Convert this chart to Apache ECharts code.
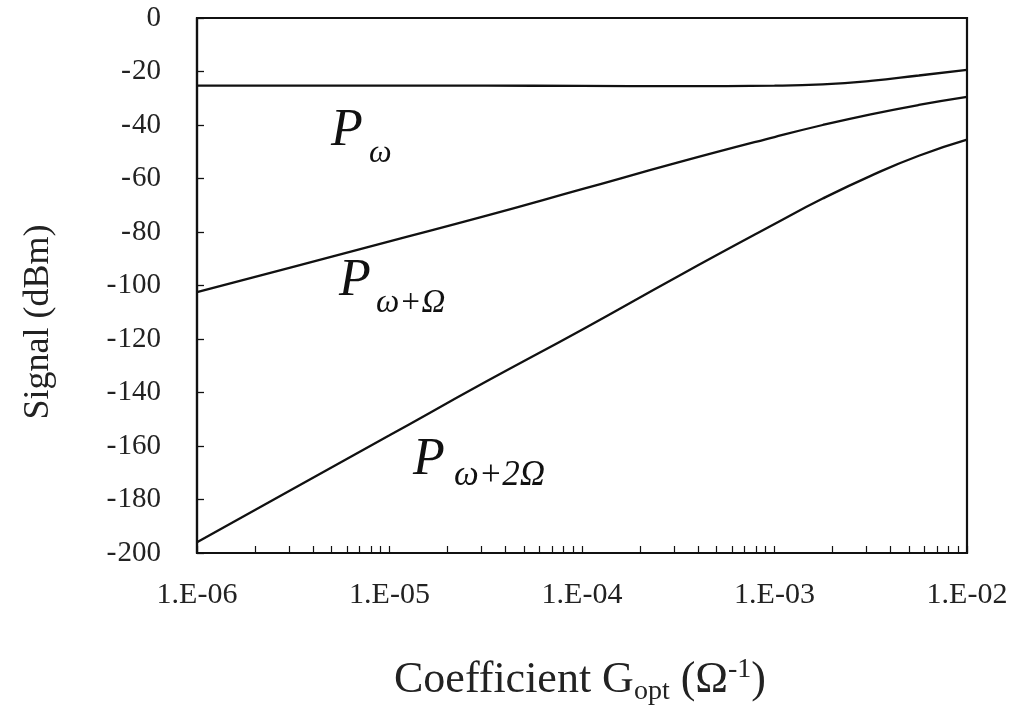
<!DOCTYPE html>
<html>
<head>
<meta charset="utf-8">
<script src="https://cdn.jsdelivr.net/npm/echarts@6/dist/echarts.min.js"></script>
<style>
html,body{margin:0;padding:0;background:#fff;}
#c{width:1015px;height:711px;}
</style>
</head>
<body>
<div id="c"></div>
<script>
// ---- data ----
const gValues = [1e-6, 3.16e-6, 1e-5, 3.16e-5, 1e-4, 3.16e-4, 1e-3, 1.78e-3, 3.16e-3, 5.62e-3, 1e-2];
const pOmega = [-25.3, -25.3, -25.3, -25.3, -25.4, -25.5, -25.3, -24.8, -23.5, -21.5, -19.4];
const pOmegaPlusOmega = [-102.5, -93, -83.5, -74, -64, -54, -44.5, -40, -36, -32.5, -29.5];
const pOmegaPlus2Omega = [-196, -176, -156, -136, -116.5, -96.5, -77, -67.5, -59, -51.5, -45.5];
const yTickValues = [0, -20, -40, -60, -80, -100, -120, -140, -160, -180, -200];
const xDecades = [1e-6, 1e-5, 1e-4, 1e-3, 1e-2];
const minorMultipliers = [1, 2, 3, 4, 5, 6, 7, 8, 9];

const FONT = '"Liberation Serif","Times New Roman",serif';
const tickLogs = [];
for (let n = -6; n < -2; n++) minorMultipliers.forEach(k => tickLogs.push(n + Math.log10(k)));
tickLogs.push(-2);

function pairs(ys) { return gValues.map((x, i) => [x, ys[i]]); }
function fmtExp(v) {
  const e = Math.round(Math.log10(v));
  const s = e < 0 ? '-' : '+';
  const a = Math.abs(e);
  return '1.E' + s + (a < 10 ? '0' + a : a);
}
function fmtY(v) {
  if (v < 0) return '{m|-}{n|' + Math.abs(v) + '}';
  return '{n|' + v + '}';
}

const chart = echarts.init(document.getElementById('c'), null, {renderer: 'canvas'});
const lineStyle = {color: '#111', width: 2.3};
const series = [pOmega, pOmegaPlusOmega, pOmegaPlus2Omega].map((d) => ({
  type: 'line', xAxisIndex: 0, yAxisIndex: 0, data: pairs(d), smooth: true,
  showSymbol: false, lineStyle: lineStyle, z: 5
}));

function sub(x, yMid, txt, size) {
  return {type: 'text', x: x, y: yMid, z: 10, style: {
    text: txt, font: 'italic ' + size + 'px ' + FONT, fill: '#111', verticalAlign: 'middle', align: 'left'}};
}

chart.setOption({
  animation: false,
  backgroundColor: '#fff',
  grid: {left: 197, right: 48, top: 18, bottom: 158, show: true, borderColor: '#111', borderWidth: 2.2, backgroundColor: 'transparent'},
  xAxis: [{
    type: 'log', logBase: 10, min: xDecades[0], max: xDecades[xDecades.length - 1], position: 'bottom',
    axisLine: {show: true, lineStyle: {color: '#111', width: 2.2}},
    axisTick: {show: false},
    axisLabel: {margin: 27, color: '#222', fontFamily: FONT, fontSize: 30, formatter: fmtExp},
    splitLine: {show: false}, minorTick: {show: false}
  }, {
    type: 'value', min: -6, max: -2, position: 'bottom',
    axisLine: {show: false},
    axisTick: {show: true, inside: true, length: 7, customValues: tickLogs, lineStyle: {color: '#111', width: 1.2}},
    axisLabel: {show: false}, splitLine: {show: false}
  }],
  yAxis: {
    type: 'value', min: -200, max: 0, interval: 20,
    axisLine: {show: true, lineStyle: {color: '#111', width: 2.2}},
    axisTick: {show: true, inside: true, length: 7, lineStyle: {color: '#111', width: 1.3}},
    axisLabel: {margin: 36, color: '#222', formatter: fmtY,
      rich: {m: {fontFamily: FONT, fontSize: 30, color: '#222', padding: [0, 1, 0, 0]},
             n: {fontFamily: FONT, fontSize: 29, color: '#222'}}},
    splitLine: {show: false}
  },
  series: series,
  graphic: [
    {type: 'text', x: 39, y: 322, rotation: Math.PI / 2, style: {
      text: 'Signal (dBm)', font: '36px ' + FONT, fill: '#222', align: 'center', verticalAlign: 'middle'}},
    {type: 'text', x: 580, y: 680, style: {
      text: '{m|Coefficient G}{sub|opt}{m| (Ω}{sup|-1}{m|)}', align: 'center', verticalAlign: 'middle',
      rich: {
        m: {font: '44px ' + FONT, fill: '#222'},
        sub: {font: '28px ' + FONT, fill: '#222', padding: [24, 0, 0, 0]},
        sup: {font: '28px ' + FONT, fill: '#222', padding: [0, 0, 20, 0]}
      }}},
    sub(331, 131, 'P', 52),
    sub(369, 154, 'ω', 32),
    sub(339, 281, 'P', 52),
    sub(376, 303, 'ω+Ω', 33),
    sub(413, 460, 'P', 52),
    sub(454, 476, 'ω+2Ω', 35)
  ]
});
</script>
</body>
</html>
